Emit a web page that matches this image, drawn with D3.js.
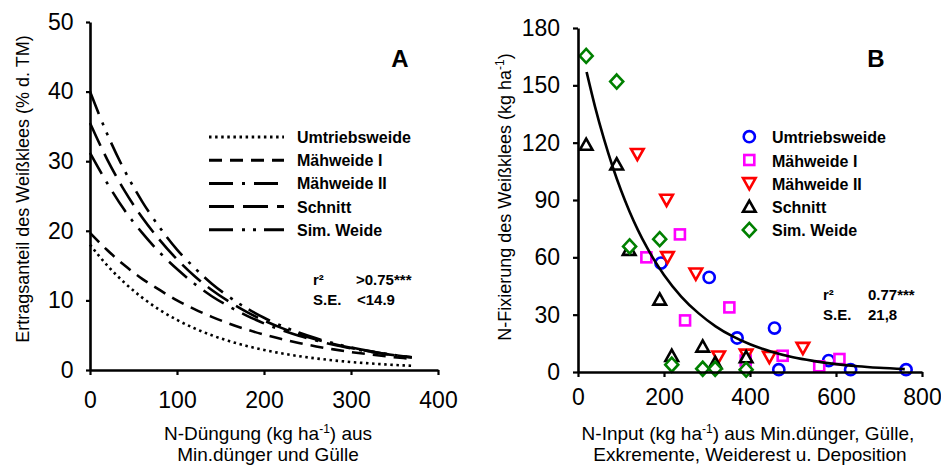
<!DOCTYPE html>
<html>
<head>
<meta charset="utf-8">
<script src="https://cdn.jsdelivr.net/npm/d3@7/dist/d3.min.js"></script>
<style>
  html, body { margin: 0; padding: 0; background: #fff; }
  svg { display: block; font-family: "Liberation Sans", Arial, sans-serif; }
</style>
</head>
<body>
<svg id="chart" width="941" height="466"></svg>
<script>
// ---------- Panel A data (fitted curves) ----------
const nDuengung = [0,20,40,60,80,100,120,140,160,180,200,220,240,260,280,300,320,340,360,370];
const umtriebsweideA = [18,15.0,12.5,10.4,8.64,7.20,5.99,4.99,4.15,3.46,2.88,2.40,1.99,1.66,1.38,1.15,0.96,0.80,0.66,0.60];
const maehweideIA    = [19.7,17.2,15.0,13.1,11.5,10.0,8.75,7.64,6.67,5.82,5.09,4.44,3.88,3.39,2.96,2.58,2.26,1.97,1.72,1.61];
const maehweideIIA   = [31.2,26.8,22.9,19.7,16.9,14.5,12.4,10.6,9.12,7.82,6.70,5.75,4.93,4.23,3.62,3.11,2.66,2.28,1.96,1.81];
const schnittA       = [35.5,30.2,25.7,21.9,18.7,15.9,13.5,11.5,9.81,8.35,7.11,6.05,5.15,4.39,3.74,3.18,2.71,2.31,1.96,1.81];
const simWeideA      = [40,33.85,28.6,24.2,20.5,17.3,14.7,12.4,10.5,8.88,7.51,6.36,5.38,4.55,3.85,3.26,2.75,2.33,1.97,1.81];
const seriesNames = ["Umtriebsweide","Mähweide I","Mähweide II","Schnitt","Sim. Weide"];
const xTicksA = [0,100,200,300,400];
const yTicksA = [0,10,20,30,40,50];

// ---------- Panel B data ----------
const umtriebsX = [193,305,370,457,467,583,634,763];
const umtriebsY = [57,49.5,17.8,23,1.2,6,1.2,1.2];
const maehIX = [159,237,249,352,390,476,561,608];
const maehIY = [60,72,27,33.8,6,8.5,3,6.8];
const maehIIX = [138,206,208,274,327,391,445,523];
const maehIIY = [114,90,60,51.4,8,9,7.8,12.5];
const schnittX = [19,90,119,190,218,290,319,391];
const schnittY = [119,108.7,64,38,8.5,13.4,4.7,7.8];
const simWeideX = [19,90,120,190,218,290,319,391];
const simWeideY = [165.4,152,65.7,69.5,3.8,1.7,1.7,1.2];
const fitXB = [20,40,60,80,100,120,140,160,180,200,240,280,320,360,400,450,500,550,600,650,700,760];
const fitYB = [157,138.5,122.2,107.8,95.1,83.9,74.0,65.3,57.6,50.8,39.5,30.8,23.9,18.6,14.5,10.6,7.7,5.7,4.1,3.0,2.2,1.5];
const xTicksB = [0,200,400,600,800];
const yTicksB = [0,30,60,90,120,150,180];

// ---------- styles ----------
const dashA = ["2.5,3.6", "13,8", "24,9,3,9", "25,9", "24,9,3,8,3,8"];
const colorsB = ["#0000ff","#ff00ff","#ff0000","#000000","#008000"];
const shapesB = ["circle","square","triDown","triUp","diamond"];

const svg = d3.select("#chart");
const font = "'Liberation Sans', Arial, sans-serif";

function styleAxis(g, fs) {
  g.select(".domain").attr("stroke","#000").attr("stroke-width",2.6);
  g.selectAll(".tick line").attr("stroke","#000").attr("stroke-width",2.2);
  g.selectAll(".tick text").attr("font-size", fs).attr("font-family", font).attr("fill","#000");
}

// ================= Panel A =================
const xA = d3.scaleLinear().domain([0,400]).range([90,438]);
const yA = d3.scaleLinear().domain([0,50]).range([370,22]);

const seriesA = [umtriebsweideA, maehweideIA, maehweideIIA, schnittA, simWeideA];
const lineA = (vals) => d3.line().x((d,i)=>xA(nDuengung[i])).y(d=>yA(d)).curve(d3.curveMonotoneX)(vals);

seriesA.forEach((vals,k)=>{
  svg.append("path").attr("d", lineA(vals)).attr("fill","none")
    .attr("stroke","#000").attr("stroke-width",2.6)
    .attr("stroke-dasharray", dashA[k]);
});

svg.append("g").attr("transform","translate(90,0)")
  .call(d3.axisLeft(yA).tickValues(yTicksA).tickSize(4).tickSizeOuter(0).tickPadding(12.5))
  .call(g=>styleAxis(g,23));
svg.append("g").attr("transform","translate(0,370)")
  .call(d3.axisBottom(xA).tickValues(xTicksA).tickSize(5).tickSizeOuter(0).tickPadding(17))
  .call(g=>styleAxis(g,23));

// legend A
seriesNames.forEach((name,k)=>{
  const ly = 137 + k*23.2;
  svg.append("line").attr("x1",209).attr("x2",284).attr("y1",ly).attr("y2",ly)
    .attr("stroke","#000").attr("stroke-width",3).attr("stroke-dasharray",dashA[k]);
  svg.append("text").attr("x",297).attr("y",ly+6).attr("font-size",16).attr("font-weight","bold")
    .text(name);
});

svg.append("text").attr("x",400).attr("y",67).attr("text-anchor","middle")
  .attr("font-size",24).attr("font-weight","bold").text("A");

svg.append("text").attr("x",313).attr("y",285).attr("font-size",15).attr("font-weight","bold").text("r²");
svg.append("text").attr("x",356).attr("y",285).attr("font-size",15).attr("font-weight","bold").text(">0.75***");
svg.append("text").attr("x",313).attr("y",305).attr("font-size",15).attr("font-weight","bold").text("S.E.");
svg.append("text").attr("x",357).attr("y",305).attr("font-size",15).attr("font-weight","bold").text("<14.9");

// axis titles A
svg.append("text").attr("transform","translate(29,189) rotate(-90)").attr("text-anchor","middle")
  .attr("font-size",18).text("Ertragsanteil des Weißklees (% d. TM)");
const tA = svg.append("text").attr("x",268).attr("y",440).attr("text-anchor","middle").attr("font-size",19);
tA.append("tspan").text("N-Düngung (kg ha");
tA.append("tspan").attr("font-size",12).attr("dy",-7).text("-1");
tA.append("tspan").attr("dy",7).text(") aus");
svg.append("text").attr("x",268).attr("y",461).attr("text-anchor","middle").attr("font-size",19)
  .text("Min.dünger und Gülle");

// ================= Panel B =================
const xB = d3.scaleLinear().domain([0,800]).range([578,922]);
const yB = d3.scaleLinear().domain([0,180]).range([372,28]);

function marker(g, cx, cy, shape, color) {
  const sw = 2.6;
  if (shape === "circle") {
    g.append("circle").attr("cx",cx).attr("cy",cy).attr("r",5.6)
      .attr("fill","#fff").attr("stroke",color).attr("stroke-width",sw);
  } else if (shape === "square") {
    g.append("rect").attr("x",cx-5).attr("y",cy-5).attr("width",10).attr("height",10)
      .attr("fill","#fff").attr("stroke",color).attr("stroke-width",sw);
  } else if (shape === "triDown") {
    g.append("path").attr("d",`M${cx-6.3},${cy-5.2}L${cx+6.3},${cy-5.2}L${cx},${cy+6}Z`)
      .attr("fill","#fff").attr("stroke",color).attr("stroke-width",sw);
  } else if (shape === "triUp") {
    g.append("path").attr("d",`M${cx-6.3},${cy+5.2}L${cx+6.3},${cy+5.2}L${cx},${cy-6}Z`)
      .attr("fill","#fff").attr("stroke",color).attr("stroke-width",sw);
  } else {
    g.append("path").attr("d",`M${cx},${cy-7}L${cx+6.5},${cy}L${cx},${cy+7}L${cx-6.5},${cy}Z`)
      .attr("fill","#fff").attr("stroke",color).attr("stroke-width",sw);
  }
}

const seriesB = [[umtriebsX,umtriebsY],[maehIX,maehIY],[maehIIX,maehIIY],[schnittX,schnittY],[simWeideX,simWeideY]];
const gPts = svg.append("g");
seriesB.forEach(([xs,ys],k)=>{
  xs.forEach((xv,i)=> marker(gPts, xB(xv), yB(ys[i]), shapesB[k], colorsB[k]));
});

svg.append("path")
  .attr("d", d3.line().x((d,i)=>xB(fitXB[i])).y(d=>yB(d)).curve(d3.curveMonotoneX)(fitYB))
  .attr("fill","none").attr("stroke","#000").attr("stroke-width",2.6);

svg.append("g").attr("transform","translate(578,0)")
  .call(d3.axisLeft(yB).tickValues(yTicksB).tickSize(5).tickSizeOuter(0).tickPadding(13))
  .call(g=>styleAxis(g,23));
svg.append("g").attr("transform","translate(0,372)")
  .call(d3.axisBottom(xB).tickValues(xTicksB).tickSize(5).tickSizeOuter(0).tickPadding(12))
  .call(g=>styleAxis(g,23));

// legend B
const gLegB = svg.append("g");
seriesNames.forEach((name,k)=>{
  const ly = 136.7 + k*23.3;
  marker(gLegB, 749.3, ly, shapesB[k], colorsB[k]);
  svg.append("text").attr("x",772).attr("y",ly+6.5).attr("font-size",16).attr("font-weight","bold")
    .text(name);
});

svg.append("text").attr("x",876).attr("y",67).attr("text-anchor","middle")
  .attr("font-size",24).attr("font-weight","bold").text("B");

svg.append("text").attr("x",823).attr("y",300).attr("font-size",15).attr("font-weight","bold").text("r²");
svg.append("text").attr("x",868).attr("y",300).attr("font-size",15).attr("font-weight","bold").text("0.77***");
svg.append("text").attr("x",823).attr("y",320).attr("font-size",15).attr("font-weight","bold").text("S.E.");
svg.append("text").attr("x",868).attr("y",320).attr("font-size",15).attr("font-weight","bold").text("21,8");

// axis titles B
const tBy = svg.append("text").attr("transform","translate(511,197) rotate(-90)").attr("text-anchor","middle")
  .attr("font-size",18);
tBy.append("tspan").text("N-Fixierung des Weißklees (kg ha");
tBy.append("tspan").attr("font-size",12).attr("dy",-7).text("-1");
tBy.append("tspan").attr("dy",7).text(")");
const tB = svg.append("text").attr("x",748).attr("y",440).attr("text-anchor","middle").attr("font-size",19);
tB.append("tspan").text("N-Input (kg ha");
tB.append("tspan").attr("font-size",12).attr("dy",-7).text("-1");
tB.append("tspan").attr("dy",7).text(") aus Min.dünger, Gülle,");
svg.append("text").attr("x",750).attr("y",461).attr("text-anchor","middle").attr("font-size",19)
  .text("Exkremente, Weiderest u. Deposition");
</script>
</body>
</html>
